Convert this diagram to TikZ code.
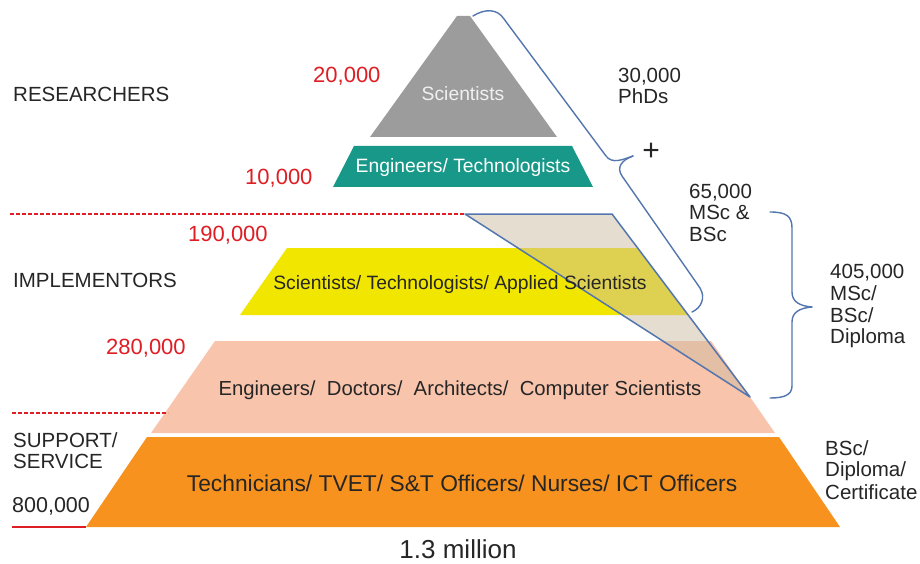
\documentclass[tikz,border=0pt]{standalone}
\usepackage{fontspec}
\setmainfont{Liberation Sans}
\definecolor{pgray}{RGB}{156,156,156}
\definecolor{pteal}{RGB}{24,152,136}
\definecolor{pyellow}{RGB}{240,230,0}
\definecolor{psalmon}{RGB}{249,196,172}
\definecolor{porange}{RGB}{247,146,30}
\definecolor{pred}{RGB}{222,30,36}
\definecolor{pblue}{RGB}{84,118,174}
\definecolor{phatch}{RGB}{205,188,160}
\begin{document}
\begin{tikzpicture}[x=1pt,y=-1pt,
  lbl/.style={inner sep=0pt,font=\fontsize{20.5}{22}\selectfont,text=black!85},
  redlbl/.style={lbl,font=\fontsize{22}{24}\selectfont,text=pred},
  tier/.style={inner sep=0pt,font=\fontsize{19.3}{22}\selectfont,text=black!85},
  brace/.style={draw=pblue,line width=1.4pt,line cap=round,line join=round},
  sep/.style={draw=pred,line width=1.2pt,dash pattern=on 4pt off 2pt}]
\useasboundingbox[fill=white] (0,0) rectangle (920,564);
% pyramid tiers
\fill[pgray] (370,137) -- (557,137) -- (470,16) -- (457,16) -- cycle;
\fill[pteal] (333,187) -- (593,187) -- (572,146) -- (354,146) -- cycle;
\fill[pyellow] (240,315) -- (688,315) -- (638,248) -- (287,248) -- cycle;
\fill[psalmon] (151,433) -- (775,433) -- (711,341) -- (215,341) -- cycle;
\fill[porange] (86,527) -- (840,527) -- (779,437) -- (147,437) -- cycle;
% hatched overlay
\filldraw[fill=phatch,fill opacity=0.5,draw=pblue,line width=1.5pt,line join=round]
  (465,214) -- (612,214) -- (750,397) -- cycle;
% separators
\coordinate (s1a) at (10,214);
\coordinate (s1b) at (465,214);
\coordinate (s2a) at (12,413);
\coordinate (s2b) at (168,413);
\coordinate (s3a) at (12,527);
\coordinate (s3b) at (86,527);
\draw[sep] (s1a) -- (s1b);
\draw[sep] (s2a) -- (s2b);
\draw[draw=pred,line width=2.2pt] (s3a) -- (s3b);
% tier texts
\node[tier,anchor=base,text=white!94!black] (tsci) at (463,101) {Scientists};
\node[tier,anchor=base,text=white] (teng) at (463,173) {Engineers/ Technologists};
\node[tier,anchor=base] (tapp) at (460,289) {Scientists/ Technologists/ Applied Scientists};
\node[tier,anchor=base,font=\fontsize{20.3}{22}\selectfont] (tdoc) at (460,395) {Engineers/\;\;Doctors/\;\;Architects/\;\;Computer Scientists};
\node[tier,anchor=base,font=\fontsize{22.8}{25}\selectfont] (ttec) at (462,491) {Technicians/ TVET/ S\&T Officers/ Nurses/ ICT Officers};
% left labels
\node[lbl,anchor=base west] (res) at (13,102) {RESEARCHERS};
\node[lbl,anchor=base west] (imp) at (13,287) {IMPLEMENTORS};
\node[lbl,anchor=base west] (sup1) at (13,447) {SUPPORT/};
\node[lbl,anchor=base west] (sup2) at (13,468) {SERVICE};
\node[lbl,anchor=base west,font=\fontsize{21.5}{24}\selectfont] (n800) at (12,512) {800,000};
% red numbers
\node[redlbl,anchor=base west] (n20) at (313,83) {20,000};
\node[redlbl,anchor=base west] (n10) at (245,185) {10,000};
\node[redlbl,anchor=base west] (n190) at (188,241) {190,000};
\node[redlbl,anchor=base west] (n280) at (106,354) {280,000};
% bottom
\node[lbl,anchor=base,font=\fontsize{26}{28}\selectfont] (tot) at (458,558) {1.3 million};
% right labels
\node[lbl,anchor=base west] (phd1) at (618,83) {30,000};
\node[lbl,anchor=base west] (phd2) at (618,104) {PhDs};
\node[lbl,font=\fontsize{30}{30}\selectfont] (plus) at (651,152) {+};
\node[lbl,anchor=base west] (ms1) at (689,198) {65,000};
\node[lbl,anchor=base west] (ms2) at (689,219) {MSc \&};
\node[lbl,anchor=base west] (ms3) at (689,241) {BSc};
\node[lbl,anchor=base west] (dp1) at (830,278) {405,000};
\node[lbl,anchor=base west] (dp2) at (830,300) {MSc/};
\node[lbl,anchor=base west] (dp3) at (830,322) {BSc/};
\node[lbl,anchor=base west] (dp4) at (830,343) {Diploma};
\node[lbl,anchor=base west] (ce1) at (825,455) {BSc/};
\node[lbl,anchor=base west] (ce2) at (825,476) {Diploma/};
\node[lbl,anchor=base west] (ce3) at (825,499) {Certificate};
% braces
\draw[brace] (473,16) .. controls (484,9) and (497,8) .. (504,19)
  -- (606,156) .. controls (612,164) and (622,160) .. (633,156);
\draw[brace] (633,156) .. controls (622,160) and (616,167) .. (622,176)
  -- (700,288) .. controls (706,298) and (701,308) .. (692,312);
\draw[brace] (770,212) .. controls (786,212) and (792,216) .. (792,228)
  -- (792,292) .. controls (792,302) and (800,306) .. (812,307);
\draw[brace] (812,307) .. controls (800,308) and (792,312) .. (792,322)
  -- (792,386) .. controls (792,395) and (784,398) .. (770,398);
\end{tikzpicture}
\end{document}
